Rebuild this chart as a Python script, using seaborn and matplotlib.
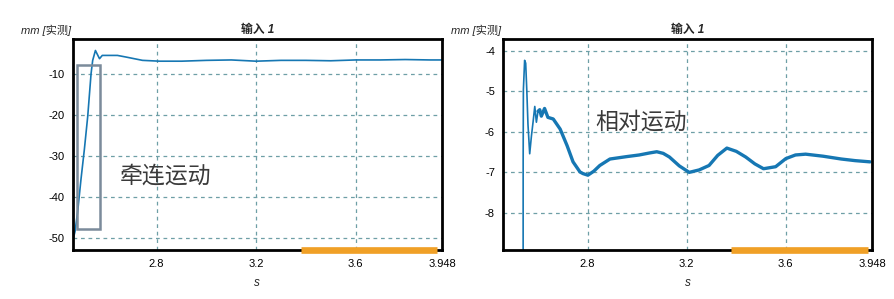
import numpy as np
import pandas as pd
import matplotlib
matplotlib.use("Agg")
import matplotlib.pyplot as plt
import matplotlib.transforms as mtransforms
import seaborn as sns

# ---------------- data ----------------
left_t = [2.4645, 2.4715, 2.482, 2.4955, 2.509, 2.5225, 2.536, 2.5425, 2.5535, 2.560,
          2.570, 2.581, 2.602, 2.642, 2.677, 2.743, 2.812, 2.90, 3.00, 3.10, 3.20,
          3.30, 3.40, 3.50, 3.60, 3.70, 3.80, 3.90, 3.946]
left_v = [-50.0, -48.3, -43.5, -35.6, -28.4, -20.4, -10.0, -6.8, -4.4, -5.2,
          -6.4, -5.6, -5.6, -5.6, -6.0, -6.8, -7.0, -7.0, -6.8, -6.7, -7.0,
          -6.8, -6.8, -6.9, -6.7, -6.7, -6.6, -6.7, -6.7]

# early spike of the right panel (thin trace)
right_t_early = [2.5395, 2.5396, 2.5405, 2.5455, 2.5498, 2.5542, 2.5590, 2.5660,
                 2.5730, 2.5795, 2.5865, 2.5930, 2.5995]
right_v_early = [-8.95, -6.71, -4.96, -4.23, -4.30, -4.96, -5.81, -6.54,
                 -6.10, -5.76, -5.37, -5.76, -5.49]
# oscillating settle of the right panel (thick, noisy trace)
right_t_late = [2.5995, 2.6065, 2.6130, 2.6260, 2.6395, 2.6610, 2.6890, 2.7170,
                2.7410, 2.7690, 2.7810, 2.8010, 2.8250, 2.8490, 2.8900, 2.9580,
                3.0080, 3.0500, 3.0790, 3.1050, 3.1300, 3.1700, 3.2100, 3.2500,
                3.2900, 3.3250, 3.3620, 3.4000, 3.4380, 3.4750, 3.5100, 3.5590,
                3.6000, 3.6390, 3.6800, 3.7500, 3.8240, 3.8800, 3.9400]
right_v_late = [-5.49, -5.45, -5.61, -5.42, -5.64, -5.68, -5.93, -6.34,
                -6.74, -6.99, -7.03, -7.07, -6.97, -6.83, -6.67, -6.61,
                -6.57, -6.52, -6.49, -6.53, -6.62, -6.84, -7.00, -6.94,
                -6.83, -6.58, -6.40, -6.48, -6.62, -6.79, -6.91, -6.86,
                -6.66, -6.57, -6.55, -6.60, -6.67, -6.71, -6.74]

x_ticks = [2.8, 3.2, 3.6, 3.948]
x_tick_labels = ["2.8", "3.2", "3.6", "3.948"]
left_y_ticks = [-10, -20, -30, -40, -50]
right_y_ticks = [-4, -5, -6, -7, -8]

left_xlim = (2.462, 3.948)
right_xlim = (2.4595, 3.944)
left_ylim = (-52.9, -1.5)
right_ylim = (-8.93, -3.69)

# highlight box on the left panel (t0, t1, v0, v1)
box_t = (2.478, 2.570)
box_v = (-47.8, -7.85)
# orange range bars along the time axis
bar_left = (3.379, 3.929)
bar_right = (3.379, 3.931)

title_text = "输入 1"
ylabel_text = "mm [实测]"
xlabel_text = "s"
left_note = "牵连运动"
right_note = "相对运动"

# ---------------- style ----------------
sns.set_theme(style="white")
plt.rcParams['font.family'] = ['Liberation Sans', 'Noto Sans CJK SC', 'DejaVu Sans']

line_color = "#1677b3"
grid_color = "#6e9fa6"
orange = "#f0a026"

fig = plt.figure(figsize=(8.94, 2.99), dpi=100)
ax1 = fig.add_axes([0.0813, 0.1625, 0.4131, 0.7087])
ax2 = fig.add_axes([0.5630, 0.1625, 0.4124, 0.7087])

df_left = pd.DataFrame({"t": left_t, "v": left_v})
df_re = pd.DataFrame({"t": right_t_early, "v": right_v_early})
df_rl = pd.DataFrame({"t": right_t_late, "v": right_v_late})

sns.lineplot(data=df_left, x="t", y="v", ax=ax1, color=line_color, lw=1.2,
             estimator=None, sort=False)
sns.lineplot(data=df_re, x="t", y="v", ax=ax2, color=line_color, lw=1.2,
             estimator=None, sort=False)
sns.lineplot(data=df_rl, x="t", y="v", ax=ax2, color=line_color, lw=2.4,
             estimator=None, sort=False)


def style_axes(ax, xlim, ylim, yticks, bar):
    ax.set_xlim(*xlim)
    ax.set_ylim(*ylim)
    ax.set_xticks(x_ticks)
    ax.set_xticklabels(x_tick_labels)
    ax.set_yticks(yticks)
    ax.set_yticklabels([str(v) for v in yticks])
    ax.tick_params(axis="both", direction="out", length=4, width=1.3,
                   colors="black", labelsize=8, pad=2)
    for s in ax.spines.values():
        s.set_visible(True)
        s.set_color("black")
        s.set_linewidth(2.0)
    for xv in x_ticks[:-1]:
        ax.axvline(xv, color=grid_color, ls=(0, (3, 3)), lw=0.9, zorder=0)
    for yv in yticks:
        ax.axhline(yv, color=grid_color, ls=(0, (3, 3)), lw=0.9, zorder=0)
    ax.set_xlabel("")
    ax.set_ylabel("")
    ax.set_title(title_text, fontsize=8.5, fontweight="bold", style="italic",
                 pad=4)
    ax.text(0.5, -0.155, xlabel_text, transform=ax.transAxes, ha="center",
            va="center", fontsize=8.5, style="italic")
    ax.text(-0.005, 1.04, ylabel_text, transform=ax.transAxes, ha="right",
            va="center", fontsize=8, style="italic")
    trans = mtransforms.blended_transform_factory(ax.transData, ax.transAxes)
    ax.plot(list(bar), [0.0, 0.0], color=orange, lw=4.8, transform=trans,
            clip_on=False, solid_capstyle="butt", zorder=5)


style_axes(ax1, left_xlim, left_ylim, left_y_ticks, bar_left)
style_axes(ax2, right_xlim, right_ylim, right_y_ticks, bar_right)

ax1.add_patch(plt.Rectangle((box_t[0], box_v[0]), box_t[1] - box_t[0],
                            box_v[1] - box_v[0], fill=False,
                            edgecolor="#7b8b9b", lw=1.8, zorder=4))

ax1.text(2.651, -34.9, left_note, fontsize=16.5, color="#3a3a3a",
         fontweight="light", va="center", ha="left",
         family=['Noto Sans CJK SC'])
ax2.text(2.829, -5.76, right_note, fontsize=16.5, color="#3a3a3a",
         fontweight="light", va="center", ha="left",
         family=['Noto Sans CJK SC'])

fig.savefig("out.png", dpi=100)
